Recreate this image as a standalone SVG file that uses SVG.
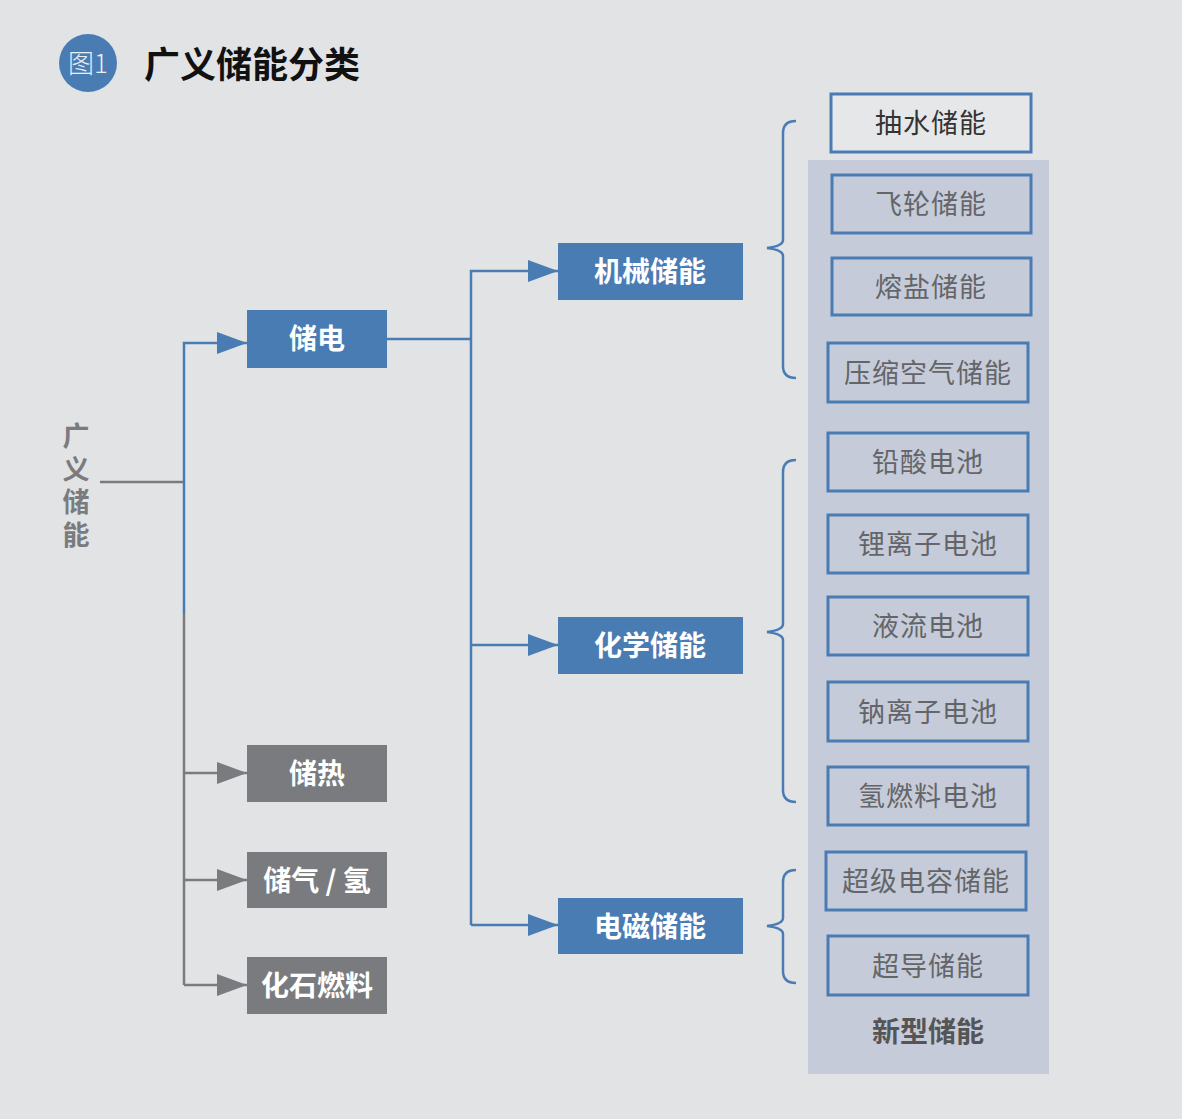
<svg xmlns="http://www.w3.org/2000/svg" width="1182" height="1119" viewBox="0 0 1182 1119">
<defs>
<style>
.t{font-family:"Noto Sans CJK SC","Noto Sans",sans-serif;}
.hb{font-weight:700;fill:#fff;font-size:28px;text-anchor:middle;}
.rb{fill:none;stroke:#4a7cb4;stroke-width:3;}
.rt{font-weight:400;fill:#646568;font-size:27px;text-anchor:middle;letter-spacing:1px;}
.bl{fill:none;stroke:#4a7cb4;stroke-width:2.5;}
.gl{fill:none;stroke:#7a7b7e;stroke-width:2.5;}
</style>
<marker id="ab" markerWidth="30" markerHeight="22" refX="30" refY="11" markerUnits="userSpaceOnUse" orient="auto"><path d="M0,0 L30,11 L0,22 Z" fill="#4a7cb4"/></marker>
<marker id="ag" markerWidth="30" markerHeight="22" refX="30" refY="11" markerUnits="userSpaceOnUse" orient="auto"><path d="M0,0 L30,11 L0,22 Z" fill="#7a7b7e"/></marker>
</defs>
<rect width="1182" height="1119" fill="#e2e3e5"/>
<g id="title">
<circle cx="88" cy="63" r="29" fill="#4a7cb4"/>
<text class="t" x="88" y="73" font-size="26" fill="#e8eef6" text-anchor="middle" font-weight="300">图1</text>
<text class="t" x="144" y="78" font-size="36" font-weight="700" fill="#111">广义储能分类</text>
</g>
<rect id="panel" x="808" y="160" width="241" height="914" fill="#c6cbd9"/>
<g id="connectors">
<path class="gl" d="M100,482 H184"/>
<path class="gl" d="M184,614 V985"/>
<path class="bl" d="M184,614 V343 H247" marker-end="url(#ab)"/>
<path class="gl" d="M184,773 H247" marker-end="url(#ag)"/>
<path class="gl" d="M184,880 H247" marker-end="url(#ag)"/>
<path class="gl" d="M184,985 H247" marker-end="url(#ag)"/>
<path class="bl" d="M387,339 H471"/>
<path class="bl" d="M471,925 V271 H558" marker-end="url(#ab)"/>
<path class="bl" d="M471,645 H558" marker-end="url(#ab)"/>
<path class="bl" d="M471,925 H558" marker-end="url(#ab)"/>
<path class="bl" d="M796,121 Q783,121 783,133 V240 Q783,246 767,248 Q783,250 783,256 V366 Q783,378 796,378"/>
<path class="bl" d="M796,460 Q783,460 783,472 V624 Q783,630 767,632 Q783,634 783,640 V790 Q783,802 796,802"/>
<path class="bl" d="M796,870 Q783,870 783,882 V918 Q783,924 767,926 Q783,928 783,934 V971 Q783,983 796,983"/>
</g>
<g id="root"><text class="t" x="76" y="422" font-size="27" font-weight="700" fill="#7a7b7e" style="writing-mode:vertical-rl;letter-spacing:6px">广义储能</text></g>
<g id="n-chudian"><rect x="247" y="310" width="140" height="58" fill="#4a7cb4"/><text class="t hb" x="317" y="349">储电</text></g>
<g id="n-chure"><rect x="247" y="745" width="140" height="57" fill="#7a7b7e"/><text class="t hb" x="317" y="784">储热</text></g>
<g id="n-chuqi"><rect x="247" y="852" width="140" height="56" fill="#7a7b7e"/><text class="t hb" x="317" y="891">储气 / 氢</text></g>
<g id="n-huashi"><rect x="247" y="957" width="140" height="57" fill="#7a7b7e"/><text class="t hb" x="317" y="996">化石燃料</text></g>
<g id="n-jixie"><rect x="558" y="243" width="185" height="57" fill="#4a7cb4"/><text class="t hb" x="650" y="282">机械储能</text></g>
<g id="n-huaxue"><rect x="558" y="617" width="185" height="57" fill="#4a7cb4"/><text class="t hb" x="650" y="656">化学储能</text></g>
<g id="n-dianci"><rect x="558" y="898" width="185" height="56" fill="#4a7cb4"/><text class="t hb" x="650" y="937">电磁储能</text></g>
<g id="n-choushui"><rect class="rb" x="831" y="94" width="200" height="58" style="fill:#e6e7e9"/><text class="t rt" x="931" y="133" style="fill:#333">抽水储能</text></g>
<g id="n-feilun"><rect class="rb" x="832" y="175" width="199" height="58"/><text class="t rt" x="931" y="214">飞轮储能</text></g>
<g id="n-rongyan"><rect class="rb" x="832" y="258" width="199" height="57"/><text class="t rt" x="931" y="297">熔盐储能</text></g>
<g id="n-yasuo"><rect class="rb" x="828" y="343" width="200" height="59"/><text class="t rt" x="928" y="383">压缩空气储能</text></g>
<g id="n-qiansuan"><rect class="rb" x="828" y="433" width="200" height="58"/><text class="t rt" x="928" y="472">铅酸电池</text></g>
<g id="n-lilizi"><rect class="rb" x="828" y="515" width="200" height="58"/><text class="t rt" x="928" y="554">锂离子电池</text></g>
<g id="n-yeliu"><rect class="rb" x="828" y="597" width="200" height="58"/><text class="t rt" x="928" y="636">液流电池</text></g>
<g id="n-nalizi"><rect class="rb" x="828" y="682" width="200" height="59"/><text class="t rt" x="928" y="722">钠离子电池</text></g>
<g id="n-qingranliao"><rect class="rb" x="828" y="767" width="200" height="58"/><text class="t rt" x="928" y="806">氢燃料电池</text></g>
<g id="n-chaoji"><rect class="rb" x="826" y="852" width="200" height="58"/><text class="t rt" x="926" y="891">超级电容储能</text></g>
<g id="n-chaodao"><rect class="rb" x="828" y="936" width="200" height="59"/><text class="t rt" x="928" y="976">超导储能</text></g>
<g id="n-xinxing"><text class="t" x="928" y="1042" font-size="28" font-weight="700" fill="#555" text-anchor="middle">新型储能</text></g>
</svg>
